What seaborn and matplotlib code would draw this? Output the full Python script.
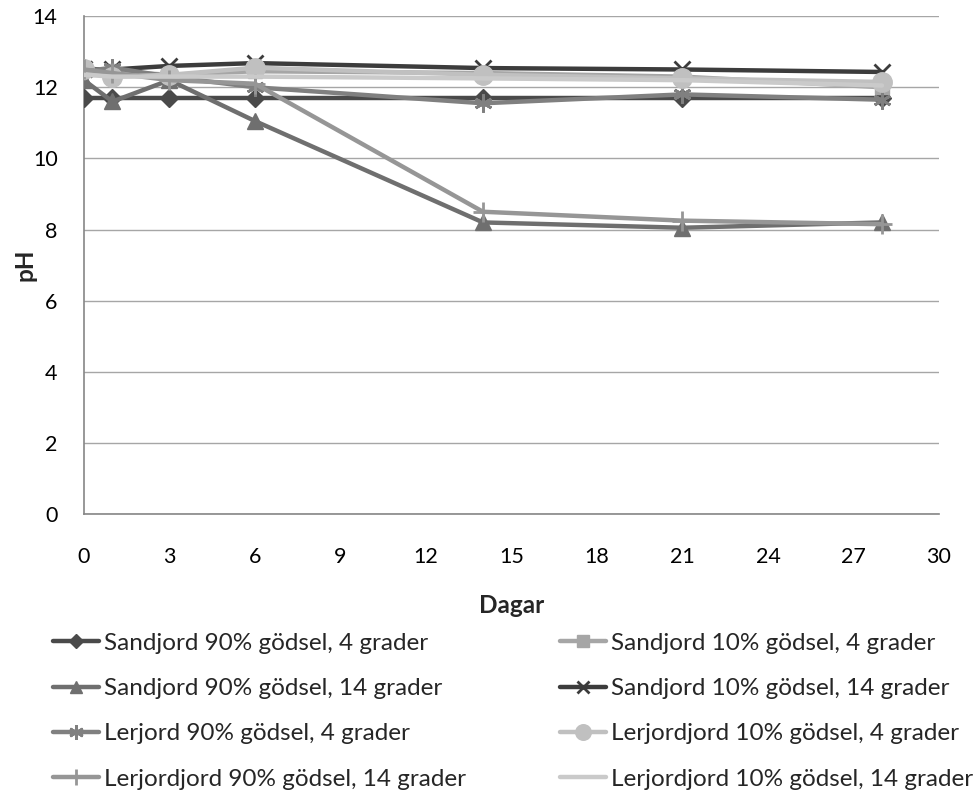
import matplotlib
matplotlib.use("Agg")
import matplotlib.pyplot as plt
import seaborn as sns
import pandas as pd

days = [0, 1, 3, 6, 14, 21, 28]
labels = [
    "Sandjord 90% gödsel, 4 grader",
    "Sandjord 10% gödsel, 4 grader",
    "Sandjord 90% gödsel, 14 grader",
    "Sandjord 10% gödsel, 14 grader",
    "Lerjord 90% gödsel, 4 grader",
    "Lerjordjord 10% gödsel, 4 grader",
    "Lerjordjord 90% gödsel, 14 grader",
    "Lerjordjord 10% gödsel, 14 grader",
]
s1 = [11.7, 11.7, 11.7, 11.7, 11.7, 11.7, 11.7]
s2 = [12.55, 12.45, 12.35, 12.45, 12.4, 12.3, 12.0]
s3 = [12.2, 11.6, 12.2, 11.05, 8.2, 8.05, 8.2]
s4 = [12.5, 12.5, 12.6, 12.68, 12.54, 12.5, 12.43]
s5 = [12.45, 12.55, 12.3, 12.0, 11.55, 11.8, 11.65]
s6 = [12.5, 12.3, 12.35, 12.55, 12.35, 12.25, 12.15]
s7 = [12.5, 12.4, 12.2, 12.1, 8.5, 8.25, 8.15]
s8 = [12.35, 12.3, 12.3, 12.3, 12.25, 12.2, 12.05]
series = [s1, s2, s3, s4, s5, s6, s7, s8]

colors = ["#4a4a4a", "#a6a6a6", "#6f6f6f", "#3c3c3c", "#808080", "#c0c0c0", "#969696", "#cacaca"]
markers = ["D", "s", "^", "x", (6, 2, 0), "o", "+", None]
msizes = [9, 10, 11, 11, 13, 14, 14, 0]

sns.set_style("white")
plt.rcParams["font.family"] = ["Lato", "DejaVu Sans"]

fig = plt.figure(figsize=(9.73, 8.07), dpi=100)
ax = fig.add_axes([0.0863, 0.363, 0.965 - 0.0863, 0.980 - 0.363])

for i, (lab, vals) in enumerate(zip(labels, series)):
    df = pd.DataFrame({"Dagar": days, "pH": vals})
    kw = dict(marker=markers[i], markersize=msizes[i],
              markeredgewidth=2 if markers[i] in ("x", "+", (6, 2, 0)) else 1,
              markeredgecolor=colors[i], markerfacecolor=colors[i]) if markers[i] is not None else {}
    sns.lineplot(data=df, x="Dagar", y="pH", ax=ax, color=colors[i], linewidth=3.2,
                 label=lab, legend=False, zorder=3 + i, **kw)

handles = ax.get_lines()

ax.set_xlim(0, 30)
ax.set_ylim(0, 14)
ax.set_xticks(range(0, 31, 3))
ax.set_yticks(range(0, 15, 2))
ax.yaxis.grid(True, color="#a6a6a6", linewidth=1)
ax.xaxis.grid(False)
for side in ["top", "right"]:
    ax.spines[side].set_visible(False)
for side in ["left", "bottom"]:
    ax.spines[side].set_color("#868686")
    ax.spines[side].set_linewidth(1.2)
ax.tick_params(axis="both", direction="out", length=6, width=1, color="#868686",
               labelsize=15.5, colors="black")
ax.tick_params(axis="x", pad=18)
ax.tick_params(axis="y", pad=13)
ax.set_xlabel("Dagar", fontsize=17.5, fontweight="bold", labelpad=19)
ax.set_ylabel("pH", fontsize=17.5, fontweight="bold", labelpad=-3)

leg_kw = dict(loc="upper left", frameon=False, fontsize=17.5, handlelength=1.9,
              handletextpad=0.2, labelspacing=1.0, markerscale=0.8,
              borderaxespad=0, borderpad=0)
col1 = [0, 2, 4, 6]
col2 = [1, 3, 5, 7]
fig.legend([handles[i] for i in col1], [labels[i] for i in col1],
           bbox_to_anchor=(53 / 973, 0.216), **leg_kw)
fig.legend([handles[i] for i in col2], [labels[i] for i in col2],
           bbox_to_anchor=(560 / 973, 0.216), **leg_kw)

fig.savefig("out.png", dpi=100)
